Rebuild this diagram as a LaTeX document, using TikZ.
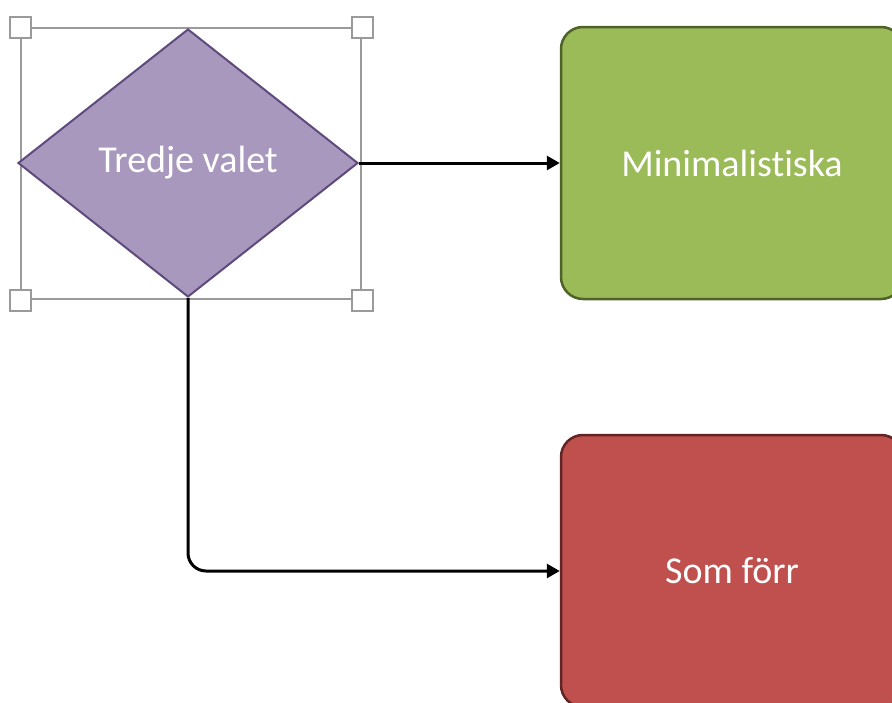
\documentclass[tikz,border=0pt]{standalone}
\usepackage{fontspec}
\setmainfont{Carlito}[Ligatures={NoCommon}]
\usetikzlibrary{shapes.geometric,arrows.meta}
\definecolor{purfill}{HTML}{A898BE}
\definecolor{purline}{HTML}{5E4A7C}
\definecolor{grnfill}{HTML}{9BBB59}
\definecolor{grnline}{HTML}{4F6228}
\definecolor{redfill}{HTML}{C0504D}
\definecolor{redline}{HTML}{632523}
\definecolor{selgrey}{HTML}{9A9A9A}
\tikzset{
  lbl/.style={font=\fontsize{38}{44}\selectfont, text=white},
  decision/.style={diamond, draw=purline, fill=purfill, line width=2pt, inner sep=0pt,
    minimum width=340pt, minimum height=268pt, lbl},
  outcome/.style={rectangle, rounded corners=22pt, line width=2.5pt, inner sep=0pt,
    minimum width=342pt, minimum height=272pt, lbl},
  selframe/.style={rectangle, draw=selgrey, line width=2pt, inner sep=0pt,
    minimum width=340pt, minimum height=271pt},
  handle/.style={rectangle, draw=selgrey, fill=white, line width=2pt, inner sep=0pt,
    minimum size=21pt},
  conn/.style={line width=3pt, -{Triangle[length=13pt,width=14pt]}},
}
\begin{document}
\begin{tikzpicture}[x=1pt,y=-1pt]
\useasboundingbox (0,0) rectangle (892,702);
\begin{scope}
\clip (0,0) rectangle (892,702);
\node[selframe] (sel) at (191,163.5) {};
\node[decision] (q) at (188,163) {Tredje valet};
\foreach \c/\n in {north west/h1, north east/h2, south west/h3, south east/h4}
  \node[handle] (\n) at (sel.\c) {};
\node[outcome, draw=grnline, fill=grnfill] (g) at (732,163) {Minimalistiska};
\node[outcome, draw=redline, fill=redfill] (r) at (732,571) {Som förr};
\draw[conn] (q.east) -- (g.west);
\draw[conn, rounded corners=18pt] (q.south) |- (r.west);
\end{scope}
\end{tikzpicture}
\end{document}
